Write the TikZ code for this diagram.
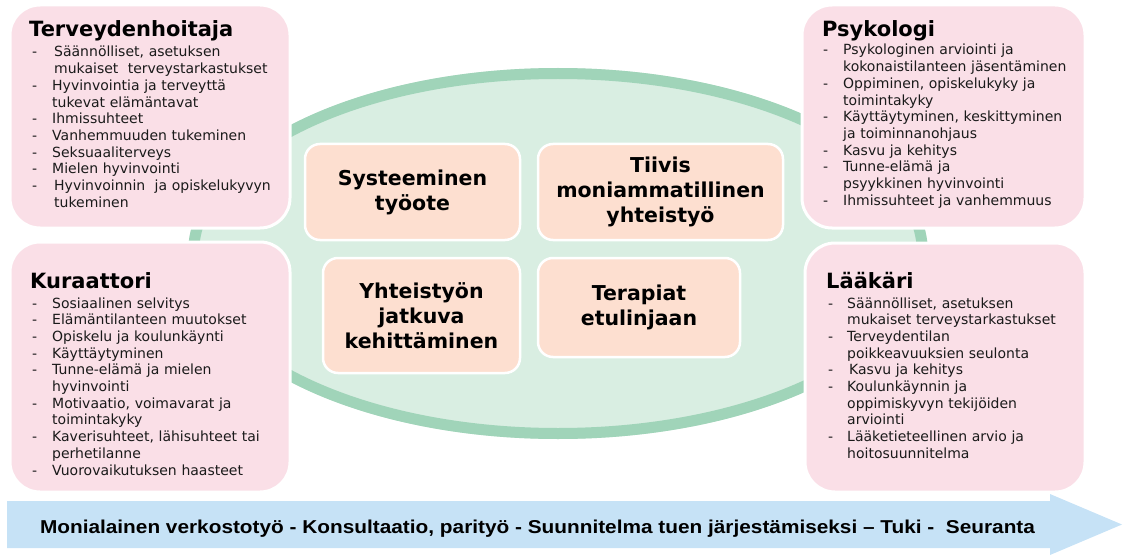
\documentclass[tikz,border=0pt]{standalone}
\usepackage{graphicx}
\usepackage{fontspec}
\setmainfont{DejaVu Sans}
\newfontfamily\arrowfont{Liberation Sans}
\definecolor{pinkc}{HTML}{FADFE7}
\definecolor{peachc}{HTML}{FDDFD0}
\definecolor{ellin}{HTML}{D9EEE2}
\definecolor{ellband}{HTML}{A0D4B9}
\definecolor{arrowc}{HTML}{C6E2F6}
\definecolor{txt}{HTML}{1A1A1A}
\newcommand{\dsh}{\makebox[20pt][l]{-}}
\newcommand{\ind}{\hspace*{20pt}}
\begin{document}
\begin{tikzpicture}[x=1pt,y=-1pt,
  pinkbox/.style={draw=white, line width=3pt, fill=pinkc, rounded corners=30pt, inner sep=0pt},
  peachbox/.style={draw=white, line width=2.5pt, fill=peachc, rounded corners=15pt, inner sep=0pt, align=center, font=\bfseries\fontsize{20.5}{25}\selectfont},
  ttl/.style={anchor=base west, inner sep=0pt, font=\bfseries\fontsize{21}{24}\selectfont},
  lst/.style={anchor=base west, inner sep=0pt, text width=285pt, align=left, text=txt, font=\fontsize{14}{16.7}\selectfont},
]
\useasboundingbox (0,0) rectangle (1127,559);
% central ellipse
\fill[ellin] (558,253.5) ellipse [x radius=370, y radius=185.5];
\draw[ellband, line width=11pt] (558,253.5) ellipse [x radius=364.5, y radius=180];

% corner boxes
\node[pinkbox, minimum width=280pt, minimum height=223pt] (tl) at (150,116.5) {};
\node[pinkbox, minimum width=280pt, minimum height=250pt] (bl) at (150,367) {};
\node[pinkbox, minimum width=283pt, minimum height=223pt] (tr) at (943.5,116.5) {};
\node[pinkbox, minimum width=280pt, minimum height=249pt] (br) at (945,367.5) {};

% titles
\node[ttl] (tlt) at (29,37) {Terveydenhoitaja};
\node[ttl] (blt) at (30,288) {Kuraattori};
\node[ttl] (trt) at (822,37) {Psykologi};
\node[ttl] (brt) at (826,288) {Lääkäri};

% lists
\node[lst] (tll) at (32,57) {%
\dsh\hspace*{2pt}Säännölliset, asetuksen\\
\ind\hspace*{2pt}mukaiset\ \ terveystarkastukset\\
\dsh Hyvinvointia ja terveyttä\\
\ind tukevat elämäntavat\\
\dsh Ihmissuhteet\\
\dsh Vanhemmuuden tukeminen\\
\dsh Seksuaaliterveys\\
\dsh Mielen hyvinvointi\\
\dsh\hspace*{2pt}Hyvinvoinnin\ \ ja opiskelukyvyn\\
\ind\hspace*{2pt}tukeminen};

\node[lst] (bll) at (32,308) {%
\dsh Sosiaalinen selvitys\\
\dsh Elämäntilanteen muutokset\\
\dsh Opiskelu ja koulunkäynti\\
\dsh Käyttäytyminen\\
\dsh Tunne-elämä ja mielen\\
\ind hyvinvointi\\
\dsh Motivaatio, voimavarat ja\\
\ind toimintakyky\\
\dsh Kaverisuhteet, lähisuhteet tai\\
\ind perhetilanne\\
\dsh Vuorovaikutuksen haasteet};

\node[lst] (trl) at (823,55) {%
\dsh Psykologinen arviointi ja\\
\ind kokonaistilanteen jäsentäminen\\
\dsh Oppiminen, opiskelukyky ja\\
\ind toimintakyky\\
\dsh Käyttäytyminen, keskittyminen\\
\ind ja toiminnanohjaus\\
\dsh Kasvu ja kehitys\\
\dsh Tunne-elämä ja\\
\ind psyykkinen hyvinvointi\\
\dsh Ihmissuhteet ja vanhemmuus};

\node[lst] (brl) at (828,308) {%
\makebox[19pt][l]{-}Säännölliset, asetuksen\\
\hspace*{19pt}mukaiset terveystarkastukset\\
\makebox[19pt][l]{-}Terveydentilan\\
\hspace*{19pt}poikkeavuuksien seulonta\\
\makebox[21pt][l]{-}Kasvu ja kehitys\\
\makebox[19pt][l]{-}Koulunkäynnin ja\\
\hspace*{19pt}oppimiskyvyn tekijöiden\\
\hspace*{19pt}arviointi\\
\makebox[19pt][l]{-}Lääketieteellinen arvio ja\\
\hspace*{19pt}hoitosuunnitelma};

% central boxes
\node[peachbox, minimum width=215pt, minimum height=96pt] (sys) at (412.5,192) {Systeeminen\\työote};
\node[peachbox, minimum width=245pt, minimum height=96pt] (tii) at (660.5,192) {Tiivis\\moniammatillinen\\yhteistyö};
\node[peachbox, minimum width=197pt, minimum height=115pt] (yht) at (421.5,315.5) {Yhteistyön\\jatkuva\\kehittäminen};
\node[peachbox, minimum width=202pt, minimum height=99pt] (ter) at (639,307.5) {Terapiat\\etulinjaan};

% bottom arrow
\fill[arrowc] (7,501) -- (1050,501) -- (1050,494) -- (1122,524.5) -- (1050,555) -- (1050,548) -- (7,548) -- cycle;
\node[anchor=base, inner sep=0pt] (flow) at (537.5,533) {\resizebox{995pt}{13.5pt}{\arrowfont\bfseries Monialainen verkostotyö - Konsultaatio, parityö - Suunnitelma tuen järjestämiseksi – Tuki -\ \ Seuranta}};
\end{tikzpicture}
\end{document}
